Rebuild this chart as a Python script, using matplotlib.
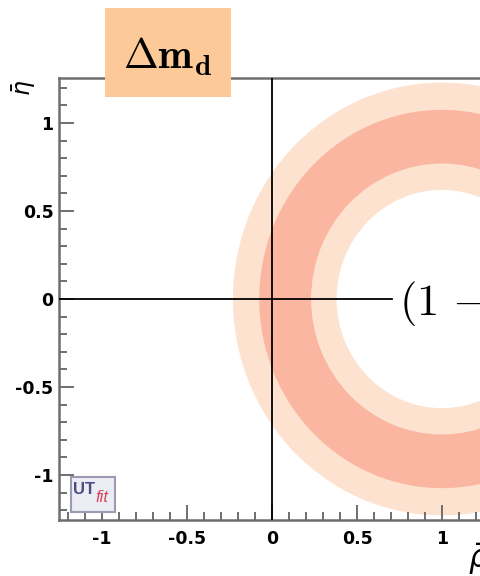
import numpy as np
from matplotlib import pyplot as plt
from matplotlib.patches import Annulus, Rectangle
from matplotlib.ticker import MultipleLocator, FixedLocator

# constraint from delta m_d: circle centred on (1, 0)
center = (1.0, 0.0)
band_95 = (0.62, 1.23)   # inner, outer radius
band_68 = (0.77, 1.075)

x_ticks = [-1, -0.5, 0, 0.5, 1]
x_tick_labels = ['-1', '-0.5', '0', '0.5', '1']
y_ticks = [-1, -0.5, 0, 0.5, 1]
y_tick_labels = ['-1', '-0.5', '0', '0.5', '1']

xlim = (-1.253, 1.247)
ylim = (-1.256, 1.256)
hline_end = 0.705

color_95 = '#FDE2CF'
color_68 = '#FBB6A2'
spine_color = '#6e6e6e'

plt.rcParams['mathtext.fontset'] = 'cm'

W, H = 480, 576
fig = plt.figure(figsize=(W / 100, H / 100), dpi=100)

def px(x, y):
    # pixel position (from top left) -> figure fraction
    return x / W, 1 - y / H

ax = fig.add_axes([59 / W, 56 / H, 425 / W, 442 / H])
ax.set_xlim(*xlim)
ax.set_ylim(*ylim)

# bands
ax.add_patch(Annulus(center, band_95[1], band_95[1] - band_95[0],
                     facecolor=color_95, edgecolor='none', zorder=1))
ax.add_patch(Annulus(center, band_68[1], band_68[1] - band_68[0],
                     facecolor=color_68, edgecolor='none', zorder=2))

# axes through the origin
ax.axvline(0, color='black', lw=1.3, zorder=3)
ax.plot([xlim[0], hline_end], [0, 0], color='black', lw=1.3, zorder=3)

# tick style
ax.xaxis.set_major_locator(FixedLocator(x_ticks))
ax.set_xticklabels(x_tick_labels)
ax.yaxis.set_major_locator(FixedLocator(y_ticks))
ax.set_yticklabels(y_tick_labels)
ax.xaxis.set_minor_locator(MultipleLocator(0.1))
ax.yaxis.set_minor_locator(MultipleLocator(0.1))
ax.tick_params(which='both', direction='in', top=False, right=False,
               color=spine_color, width=1.4)
ax.tick_params(which='major', length=11)
ax.tick_params(which='minor', length=6)
ax.tick_params(axis='x', pad=7)
ax.tick_params(axis='y', pad=4)
for lab in ax.get_xticklabels() + ax.get_yticklabels():
    lab.set_fontfamily('DejaVu Sans')
    lab.set_fontweight('bold')
    lab.set_fontsize(12.5)
for s in ax.spines.values():
    s.set_color(spine_color)
    s.set_linewidth(1.8)

# axis labels
fig.text(*px(24, 88), r'$\bar{\eta}$', rotation=90, fontsize=17,
         ha='center', va='center', math_fontfamily='dejavusans')
fig.text(*px(468, 542), r'$\bar{\rho}$', fontsize=22,
         ha='left', va='top', math_fontfamily='dejavusans')

# formula next to the circle
fig.text(*px(399, 302), r'$(1\,-\,\bar{\rho})^2+\bar{\eta}^2$', fontsize=32,
         ha='left', va='center', color='black')

# delta m_d tag
x0, y0 = px(105, 97)
fig.patches.append(Rectangle((x0, y0), 126 / W, 89 / H, transform=fig.transFigure,
                             facecolor='#FDC998', edgecolor='none', zorder=5))
fig.text(*px(168, 57), r'$\mathbf{\Delta m_d}$', fontsize=30,
         ha='center', va='center', zorder=6)

# UTfit logo
lx, ly = px(71, 512)
fig.patches.append(Rectangle((lx, ly), 44 / W, 35 / H, transform=fig.transFigure,
                             facecolor='#ECECF4', edgecolor='#9a9ab0', lw=1.5, zorder=5))
fig.text(*px(73, 490), 'UT', fontsize=12, fontweight='bold', color='#4d4d80',
         family='Liberation Sans', ha='left', va='center', zorder=6)
fig.text(*px(95, 497), 'fit', fontsize=12, fontstyle='italic', color='#d5465c',
         family='Liberation Sans', ha='left', va='center', zorder=6)

fig.savefig('out.png', dpi=100)
